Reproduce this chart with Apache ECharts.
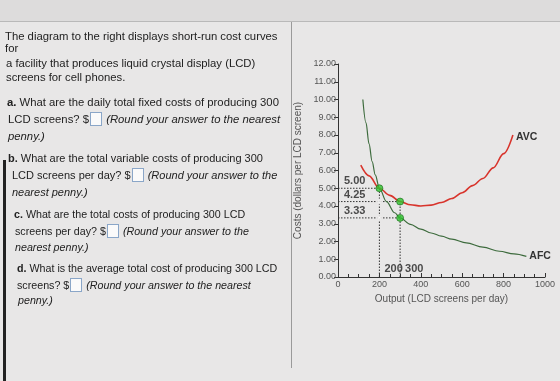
<!DOCTYPE html>
<html><head><meta charset="utf-8">
<script src="https://cdn.jsdelivr.net/npm/echarts@6/dist/echarts.min.js"></script>
<style>
html,body{margin:0;padding:0;width:560px;height:381px;overflow:hidden;background:#e8e7e7;}
#wrap{position:relative;width:560px;height:381px;}
#topbar{position:absolute;left:0;top:0;width:560px;height:21px;background:#dddcdc;border-bottom:1px solid #b9b9b9;}
#divider{position:absolute;left:291px;top:22px;width:1px;height:346px;background:#9a9a9a;}
#edge{position:absolute;left:3px;top:160px;width:3px;height:221px;background:#222;}
#chart{position:absolute;left:0;top:0;width:560px;height:381px;}
#txt{position:absolute;left:0;top:0;width:290px;height:381px;font-family:"Liberation Sans",Arial,sans-serif;font-size:11.3px;color:#222;}
#txt div{position:absolute;white-space:nowrap;line-height:13px;}
#txt div.m{font-size:11px;}
#txt div.s{font-size:10.7px;}
.bx{display:inline-block;width:10px;height:12px;border:1px solid #8aa6c8;background:#fafafa;vertical-align:-3px;margin:0 1px;}
i{font-style:italic;}
</style></head>
<body><div id="wrap">
<div id="topbar"></div>
<div id="divider"></div>
<div id="edge"></div>
<div id="chart"></div>
<div id="txt">
<div style="left:5px;top:30px">The diagram to the right displays short-run cost curves</div>
<div style="left:5px;top:42px">for</div>
<div style="left:6px;top:57px">a facility that produces liquid crystal display (LCD)</div>
<div style="left:6px;top:71px">screens for cell phones.</div>
<div style="left:7px;top:96px"><b>a.</b> What are the daily total fixed costs of producing 300</div>
<div style="left:8px;top:112px">LCD screens? $<span class="bx"></span> <i>(Round your answer to the nearest</i></div>
<div style="left:8px;top:130px"><i>penny.)</i></div>
<div class="m" style="left:8px;top:152px"><b>b.</b> What are the total variable costs of producing 300</div>
<div class="m" style="left:12px;top:168px">LCD screens per day? $<span class="bx"></span> <i>(Round your answer to the</i></div>
<div class="m" style="left:12px;top:186px"><i>nearest penny.)</i></div>
<div class="s" style="left:14px;top:208px"><b>c.</b> What are the total costs of producing 300 LCD</div>
<div class="s" style="left:15px;top:224px">screens per day? $<span class="bx"></span> <i>(Round your answer to the</i></div>
<div class="s" style="left:15px;top:241px"><i>nearest penny.)</i></div>
<div class="s" style="left:17px;top:262px"><b>d.</b> What is the average total cost of producing 300 LCD</div>
<div class="s" style="left:17px;top:278px">screens? $<span class="bx"></span> <i>(Round your answer to the nearest</i></div>
<div class="s" style="left:18px;top:294px"><i>penny.)</i></div>
</div>
</div>
<script>
// Average fixed cost curve
const afcQ = [120, 135, 150, 165, 180, 200, 234, 274, 300, 350, 400, 450, 500, 550, 620, 700, 780, 850, 910];
const afcC = [10.0, 8.7, 7.5, 6.5, 5.75, 5.0, 4.25, 3.62, 3.33, 2.97, 2.7, 2.48, 2.3, 2.13, 1.92, 1.68, 1.45, 1.3, 1.16];
// Average variable cost curve
const avcQ = [110, 150, 200, 250, 300, 350, 400, 450, 500, 550, 600, 650, 700, 750, 800, 845];
const avcC = [6.3, 5.7, 5.0, 4.6, 4.25, 4.07, 4.0, 4.05, 4.2, 4.42, 4.75, 5.15, 5.55, 6.15, 6.95, 8.0];
// highlighted points
const markQ = [200, 300, 300];
const markC = [5.00, 4.25, 3.33];
const levelLabels = ['5.00', '4.25', '3.33'];
const levelValues = [5.00, 4.25, 3.33];
const levelEndQ = [200, 300, 300];
const outputLabels = ['200', '300'];
const outputValues = [200, 300];
const outputTopC = [5.00, 4.25];
const yTicks = [0, 12, 1];
const xTicks = [0, 1000, 200];

const chart = echarts.init(document.getElementById('chart'));
const zip = (a, b) => a.map((v, i) => [v, b[i]]);
const dotted = {color: '#333', width: 1, type: [1.5, 1.5]};
const series = [];
levelValues.forEach((v, i) => {
  series.push({type: 'line', data: [[0, v], [levelEndQ[i], v]], symbol: 'none', lineStyle: dotted, silent: true, z: 1});
});
outputValues.forEach((q, i) => {
  series.push({type: 'line', data: [[q, 0], [q, outputTopC[i]]], symbol: 'none', lineStyle: dotted, silent: true, z: 1});
});
series.push({
  type: 'line', data: zip(afcQ, afcC), smooth: 0.35, smoothMonotone: 'x', symbol: 'none',
  lineStyle: {color: '#3d6b3d', width: 1.2}, z: 3,
  endLabel: {show: true, formatter: 'AFC', fontWeight: 'bold', fontSize: 10.5, color: '#333', fontFamily: 'Liberation Sans, Arial', distance: 3}
});
series.push({
  type: 'line', data: zip(avcQ, avcC), smooth: 0.35, smoothMonotone: 'x', symbol: 'none',
  lineStyle: {color: '#d8342c', width: 1.6}, z: 3,
  endLabel: {show: true, formatter: 'AVC', fontWeight: 'bold', fontSize: 10.5, color: '#333', fontFamily: 'Liberation Sans, Arial', distance: 3, offset: [0, 2]}
});
series.push({
  type: 'scatter', data: [[200, 4.25], [200, 3.33]], symbol: 'emptyCircle', symbolSize: 4,
  itemStyle: {color: '#e8e7e7', borderColor: '#666', borderWidth: 0.8}, z: 4
});
series.push({
  type: 'scatter', data: zip(markQ, markC), symbol: 'circle', symbolSize: 7,
  itemStyle: {color: '#2ec42e', borderColor: '#1a6a1a', borderWidth: 0.8}, z: 5
});
series.push({
  type: 'scatter', data: levelValues.map((v, i) => ({value: [0, v], name: levelLabels[i]})),
  symbolSize: 0, z: 6,
  label: {show: true, formatter: p => p.name, position: 'right', offset: [1, -7], fontWeight: 'bold', fontSize: 11, color: '#222', fontFamily: 'Liberation Sans, Arial'}
});
series.push({
  type: 'scatter', data: outputValues.map((q, i) => ({value: [q, 0], name: outputLabels[i]})),
  symbolSize: 0, z: 6,
  label: {show: true, formatter: p => p.name, position: 'right', offset: [0, -8], fontWeight: 'bold', fontSize: 11, color: '#222', fontFamily: 'Liberation Sans, Arial'}
});

chart.setOption({
  animation: false,
  grid: {left: 338, right: 15, top: 64, bottom: 104, containLabel: false},
  xAxis: {
    type: 'value', min: xTicks[0], max: xTicks[1], interval: xTicks[2],
    name: 'Output (LCD screens per day)', nameLocation: 'middle', nameGap: 12,
    nameTextStyle: {fontSize: 10, color: '#555', fontFamily: 'Liberation Sans, Arial'},
    axisLine: {lineStyle: {color: '#333', width: 1}},
    axisTick: {show: true, inside: true, length: 4, lineStyle: {color: '#333'}},
    minorTick: {show: true, splitNumber: 4, length: 3, lineStyle: {color: '#333'}},
    axisLabel: {fontSize: 9, color: '#555', margin: 3, formatter: v => String(v), fontFamily: 'Liberation Sans, Arial'},
    splitLine: {show: false}
  },
  yAxis: {
    type: 'value', min: yTicks[0], max: yTicks[1], interval: yTicks[2],
    name: 'Costs (dollars per LCD screen)', nameLocation: 'middle', nameGap: 35,
    nameTextStyle: {fontSize: 10, color: '#555', fontFamily: 'Liberation Sans, Arial'},
    axisLine: {show: true, lineStyle: {color: '#333', width: 1}},
    axisTick: {show: true, length: 4, lineStyle: {color: '#333'}},
    axisLabel: {fontSize: 9, color: '#555', margin: 2, formatter: v => v.toFixed(2), fontFamily: 'Liberation Sans, Arial'},
    splitLine: {show: false}
  },
  series: series
});
</script>
</body></html>
